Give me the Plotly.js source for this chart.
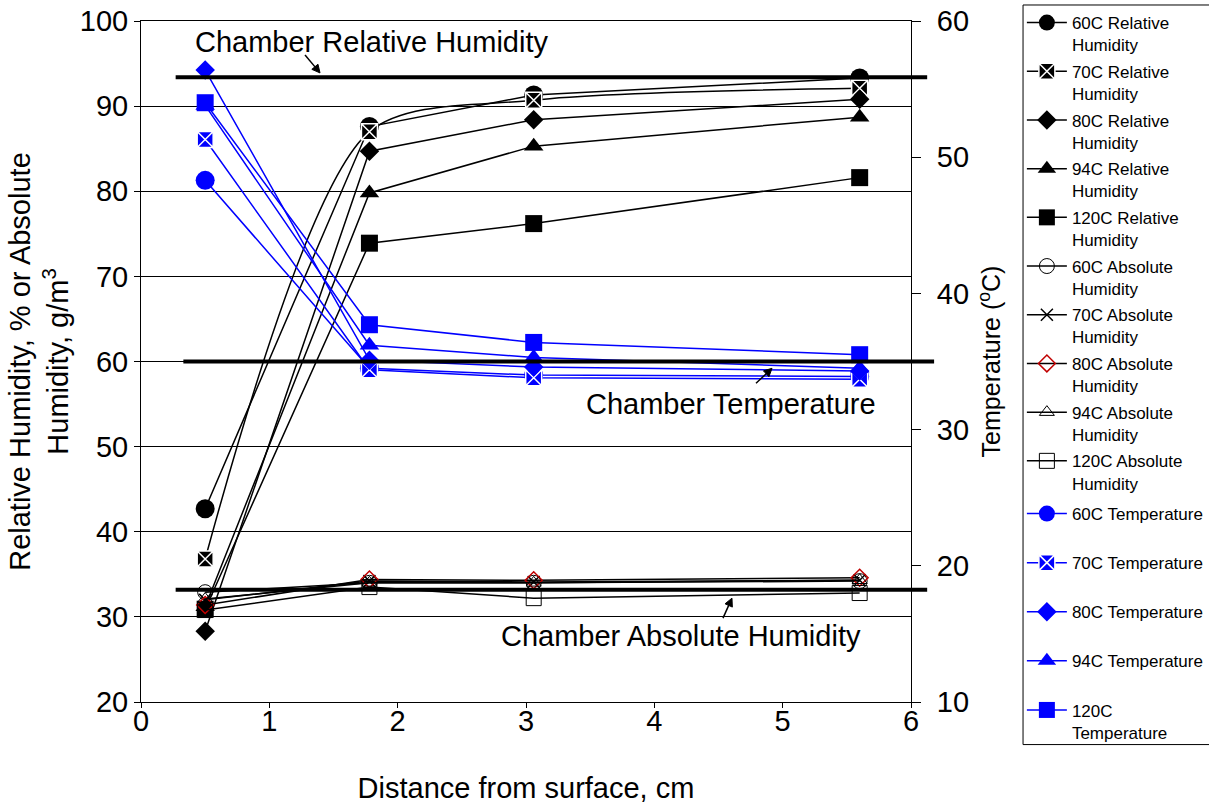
<!DOCTYPE html>
<html>
<head>
<meta charset="utf-8">
<script src="https://cdn.plot.ly/plotly-3.0.1.min.js"></script>
<style>html,body{margin:0;padding:0;background:#fff;}#chart{width:1209px;height:804px;}</style>
</head>
<body>
<div id="chart"></div>
<script>
// Distance from surface (cm)
const distance = [0.5, 1.78, 3.06, 5.6];

// Relative humidity (%)
const rh60  = [42.7, 87.6, 91.3, 93.3];
const rh70  = [36.8, 87.0, 90.7, 92.1];
const rh80  = [28.3, 84.7, 88.4, 90.8];
const rh94  = [31.2, 79.8, 85.3, 88.7];
const rh120 = [30.9, 73.9, 76.2, 81.6];

// Absolute humidity (g/m3)
const ah60  = [32.9, 34.0, 34.0, 34.2];
const ah70  = [32.0, 34.2, 34.1, 34.3];
const ah80  = [31.4, 34.4, 34.3, 34.6];
const ah94  = [32.1, 34.0, 34.0, 34.3];
const ah120 = [30.8, 33.5, 32.2, 32.8];

// Temperature (°C)
const t60  = [48.3, 34.5, 34.0, 33.9];
const t70  = [51.3, 34.4, 33.8, 33.7];
const t80  = [56.4, 35.1, 34.6, 34.3];
const t94  = [53.8, 36.2, 35.3, 34.5];
const t120 = [54.0, 37.7, 36.4, 35.5];

// Chamber reference levels
const chamberRH = 93.4;
const chamberAH = 33.2;
const chamberT  = 35.0;

const legendLabels = [
  '60C Relative<br>Humidity', '70C Relative<br>Humidity', '80C Relative<br>Humidity',
  '94C Relative<br>Humidity', '120C Relative<br>Humidity',
  '60C Absolute<br>Humidity', '70C Absolute<br>Humidity', '80C Absolute<br>Humidity',
  '94C Absolute<br>Humidity', '120C Absolute<br>Humidity',
  '60C Temperature', '70C Temperature', '80C Temperature',
  '94C Temperature', '120C<br>Temperature'
];

function tr(i, y, axis, color, symbol, size, mcolor, mline, shape) {
  return {
    x: distance, y: y, yaxis: axis, name: legendLabels[i], legendgroup: 'g' + i,
    legend: i < 10 ? 'legend' : 'legend2',
    type: 'scatter', mode: 'lines+markers',
    line: {color: color, width: 1.5, shape: shape || 'linear', smoothing: 0.8},
    marker: {symbol: symbol, size: size, color: mcolor,
             line: mline || {width: 0}},
    cliponaxis: false
  };
}
const BLK = '#000000', BLU = '#0000ff', RED = '#c00000';
const traces = [
  tr(0, rh60, 'y', BLK, 'circle', 19, BLK),
  tr(1, rh70, 'y', BLK, 'square-x', 16, BLK, {color: '#ffffff', width: 1.5}, 'spline'),
  tr(2, rh80, 'y', BLK, 'diamond', 15, BLK),
  tr(3, rh94, 'y', BLK, 'triangle-up', 17, BLK),
  tr(4, rh120, 'y', BLK, 'square', 17, BLK),
  tr(5, ah60, 'y', BLK, 'circle-open', 15, BLK, {color: BLK, width: 1}),
  tr(6, ah70, 'y', BLK, 'x-thin-open', 12, BLK, {color: BLK, width: 1.5}),
  tr(7, ah80, 'y', BLK, 'diamond-open', 13, RED, {color: RED, width: 1.5}),
  tr(8, ah94, 'y', BLK, 'triangle-up-open', 13, BLK, {color: BLK, width: 1}),
  tr(9, ah120, 'y', BLK, 'square-open', 15, BLK, {color: BLK, width: 1}),
  tr(10, t60, 'y2', BLU, 'circle', 19, BLU),
  tr(11, t70, 'y2', BLU, 'square-x', 16, BLU, {color: '#ffffff', width: 1.5}),
  tr(12, t80, 'y2', BLU, 'diamond', 15, BLU),
  tr(13, t94, 'y2', BLU, 'triangle-up', 17, BLU),
  tr(14, t120, 'y2', BLU, 'square', 17, BLU)
];

// arrow shapes anchored at the arrow tip (pixel offsets, y up)
function arrow(xa, ya, line, head) {
  return [
    {type: 'path', xref: 'x', yref: 'y', xsizemode: 'pixel', ysizemode: 'pixel',
     xanchor: xa, yanchor: ya, path: line, line: {color: '#000', width: 1.5}, layer: 'above'},
    {type: 'path', xref: 'x', yref: 'y', xsizemode: 'pixel', ysizemode: 'pixel',
     xanchor: xa, yanchor: ya, path: head, line: {color: '#000', width: 1}, fillcolor: '#000', layer: 'above'}
  ];
}

const FONT = 'Liberation Sans, Arial, sans-serif';
const legendBase = {
  xanchor: 'left', yanchor: 'top', borderwidth: 0, bgcolor: 'rgba(0,0,0,0)',
  font: {family: FONT, size: 17, color: '#000'}, valign: 'top', itemwidth: 40,
  maxheight: 780
};
const layout = {
  width: 1209, height: 804,
  paper_bgcolor: '#ffffff', plot_bgcolor: '#ffffff',
  margin: {l: 141, r: 298, t: 21, b: 102, autoexpand: false},
  font: {family: FONT, color: '#000', size: 29},
  showlegend: true,
  legend: Object.assign({}, legendBase, {x: 1.144, y: 1.0235, tracegroupgap: 1.5}),
  legend2: Object.assign({}, legendBase, {x: 1.144, y: 0.3025, tracegroupgap: 24}),
  xaxis: {
    range: [0, 6], dtick: 1, tick0: 0, showgrid: false, zeroline: false,
    showline: true, linecolor: '#000', linewidth: 1, mirror: true,
    ticks: 'outside', ticklen: 5, tickcolor: '#000', ticklabelstandoff: -12,
    tickfont: {size: 29},
    title: {text: 'Distance from surface, cm', font: {size: 29}, standoff: 42}
  },
  yaxis: {
    range: [20, 100], dtick: 10, tick0: 20, showgrid: true, gridcolor: '#000', gridwidth: 1,
    zeroline: false, showline: true, linecolor: '#000', linewidth: 1,
    ticks: 'outside', ticklen: 6, tickcolor: '#000', tickfont: {size: 29},
    title: {text: 'Relative Humidity, % or Absolute<br>Humidity, g/m<sup>3</sup>', font: {size: 29}, standoff: 2}
  },
  yaxis2: {
    range: [10, 60], dtick: 10, tick0: 10, overlaying: 'y', side: 'right',
    showgrid: false, zeroline: false, showline: true, linecolor: '#000', linewidth: 1,
    ticks: 'outside', ticklen: 9, tickcolor: '#000', tickfont: {size: 29}, ticklabelstandoff: 10,
    title: {text: 'Temperature (<sup>o</sup>C)', font: {size: 25}, standoff: 14}
  },
  shapes: [
    {type: 'line', xref: 'paper', yref: 'y', x0: 0.045, x1: 1.021, y0: chamberRH, y1: chamberRH,
     line: {color: '#000', width: 4}, layer: 'above'},
    {type: 'line', xref: 'paper', yref: 'y', x0: 0.045, x1: 1.021, y0: chamberAH, y1: chamberAH,
     line: {color: '#000', width: 4}, layer: 'above'},
    {type: 'line', xref: 'paper', yref: 'y2', x0: 0.055, x1: 1.03, y0: chamberT, y1: chamberT,
     line: {color: '#000', width: 4}, layer: 'above'},
    {type: 'rect', xref: 'paper', yref: 'paper', x0: 1.1455, x1: 1.45, y0: -0.0625, y1: 1.0235,
     line: {color: '#000', width: 1}, fillcolor: 'rgba(0,0,0,0)', layer: 'below'}
  ].concat(
    arrow(1.395, 93.9, 'M-15,18L-4,4.8', 'M0,0L-2.05,8.7L-8.19,3.58Z'),
    arrow(4.917, 59.2, 'M-16,-15L-4.5,-4.2', 'M0,0L-8.58,-2.55L-3.1,-8.39Z'),
    arrow(4.605, 32.2, 'M-9,-20L-2.5,-5.5', 'M0,0L-6.93,-5.66L0.37,-8.94Z')
  ),
  annotations: [
    {x: 1.796, y: 97.5, xref: 'x', yref: 'y', text: 'Chamber Relative Humidity', showarrow: false,
     font: {size: 29}},
    {x: 4.597, y: 55.0, xref: 'x', yref: 'y', text: 'Chamber Temperature', showarrow: false,
     font: {size: 29}},
    {x: 4.208, y: 27.75, xref: 'x', yref: 'y', text: 'Chamber Absolute Humidity', showarrow: false,
     font: {size: 29}}
  ]
};

Plotly.newPlot('chart', traces, layout, {displayModeBar: false, staticPlot: true});
</script>
</body>
</html>
